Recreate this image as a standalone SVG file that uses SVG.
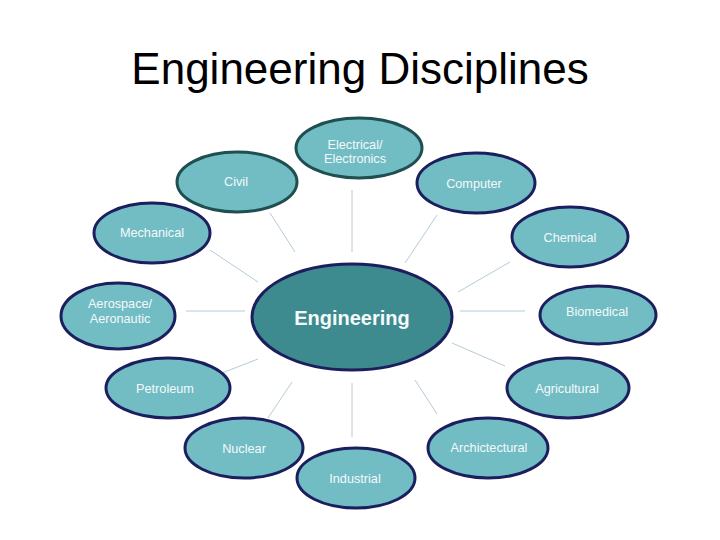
<svg xmlns="http://www.w3.org/2000/svg" width="720" height="540" viewBox="0 0 720 540">
<style>
.title{font-family:"Liberation Sans",Arial,sans-serif;font-size:44px;fill:#000;text-anchor:middle}
.n ellipse{fill:#72bcc4;stroke:#1c1f5e;stroke-width:3}
.n.t ellipse{stroke:#1f4f50}
.n text{font-family:"Liberation Sans",Arial,sans-serif;font-size:12.7px;fill:#f4fafa;text-anchor:middle}
#engineering ellipse{fill:#3d8a8f;stroke:#1c1f5e;stroke-width:3}
#engineering text{font-size:20px;font-weight:bold}
.c line{stroke:#b4ccd6;stroke-width:1}
</style>
<rect width="720" height="540" fill="#fff"/>
<text class="title" x="360" y="84">Engineering Disciplines</text>
<g class="c" id="connectors">
<line x1="352" y1="190" x2="352" y2="252"/>
<line x1="270" y1="213" x2="295" y2="252"/>
<line x1="437" y1="215" x2="405" y2="263"/>
<line x1="210" y1="250" x2="258" y2="282"/>
<line x1="510" y1="262" x2="458" y2="292"/>
<line x1="186" y1="311" x2="245" y2="311"/>
<line x1="460" y1="311" x2="525" y2="311"/>
<line x1="222" y1="373" x2="258" y2="359"/>
<line x1="505" y1="366" x2="452" y2="343"/>
<line x1="268" y1="418" x2="292" y2="382"/>
<line x1="352" y1="383" x2="352" y2="437"/>
<line x1="437" y1="414" x2="415" y2="380"/>
</g>
<g class="n t" id="electrical"><ellipse cx="359" cy="148" rx="63" ry="30"/><text x="355" y="149">Electrical/</text><text x="355" y="163">Electronics</text></g>
<g class="n t" id="civil"><ellipse cx="237" cy="182" rx="60" ry="30"/><text x="236" y="186">Civil</text></g>
<g class="n" id="computer"><ellipse cx="476" cy="183" rx="59" ry="30"/><text x="474" y="188">Computer</text></g>
<g class="n" id="mechanical"><ellipse cx="152" cy="233" rx="58" ry="30"/><text x="152" y="237">Mechanical</text></g>
<g class="n" id="chemical"><ellipse cx="570" cy="237" rx="58" ry="30"/><text x="570" y="242">Chemical</text></g>
<g class="n" id="aerospace"><ellipse cx="118" cy="316" rx="57" ry="33"/><text x="120" y="308">Aerospace/</text><text x="120" y="323">Aeronautic</text></g>
<g class="n" id="biomedical"><ellipse cx="598" cy="315" rx="58" ry="29"/><text x="597" y="316">Biomedical</text></g>
<g class="n" id="engineering"><ellipse cx="352" cy="317" rx="100" ry="53"/><text x="352" y="325">Engineering</text></g>
<g class="n" id="petroleum"><ellipse cx="168" cy="388" rx="62" ry="30"/><text x="165" y="393">Petroleum</text></g>
<g class="n" id="agricultural"><ellipse cx="568" cy="388" rx="61" ry="30"/><text x="567" y="393">Agricultural</text></g>
<g class="n" id="nuclear"><ellipse cx="244" cy="448" rx="59" ry="30"/><text x="244" y="453">Nuclear</text></g>
<g class="n" id="architectural"><ellipse cx="488" cy="448" rx="60" ry="30"/><text x="489" y="452">Archictectural</text></g>
<g class="n" id="industrial"><ellipse cx="356" cy="478" rx="59" ry="30"/><text x="355" y="483">Industrial</text></g>
</svg>
